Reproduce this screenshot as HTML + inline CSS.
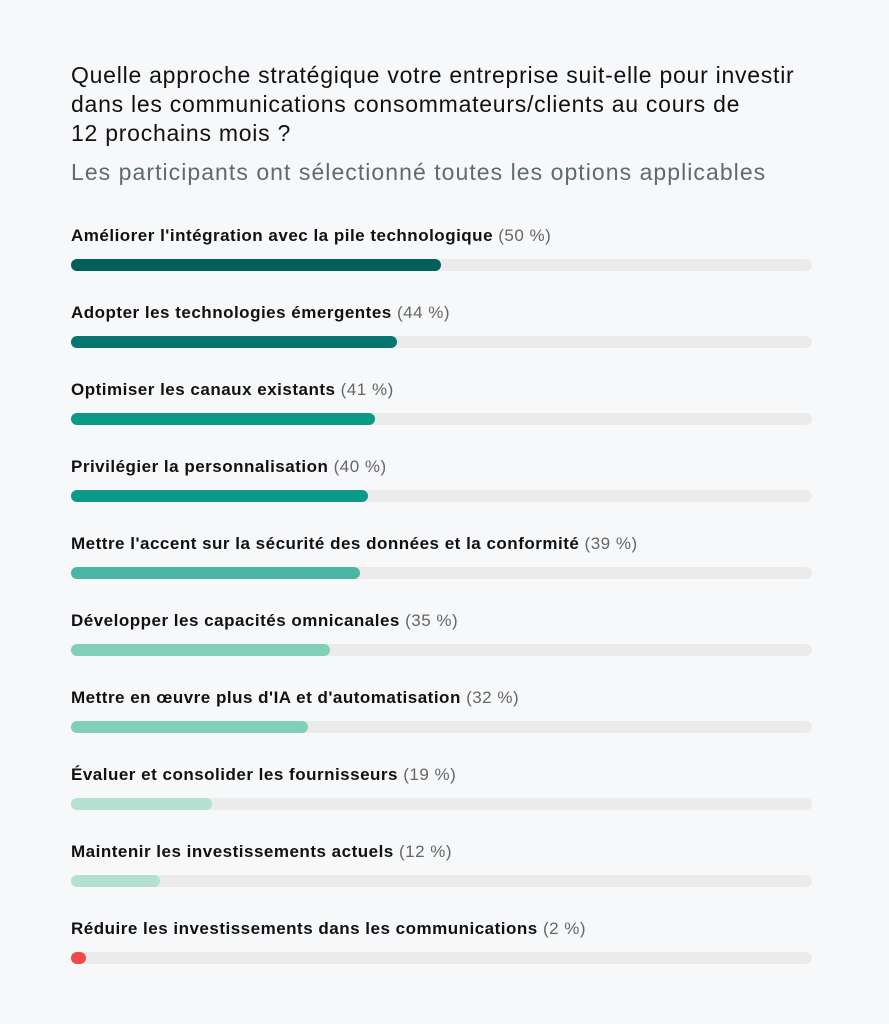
<!DOCTYPE html><html><head><meta charset="utf-8"><style>
body{margin:0;width:889px;height:1024px;background:#f7f8fa;font-family:"Liberation Sans",sans-serif;color:#111;position:relative;overflow:hidden}
.t{position:absolute;left:71px;top:61px;font-size:23px;line-height:29px;width:800px;letter-spacing:0.75px;white-space:nowrap}
.s{position:absolute;left:71px;top:159px;font-size:23px;color:#5f6b6b;letter-spacing:1.05px;white-space:nowrap}
.r{position:absolute;left:71px;width:741px}
.l{font-size:17px;font-weight:bold;height:22px;line-height:22px;white-space:nowrap;letter-spacing:0.5px}
.l span{font-weight:normal;color:#666}
.tr{position:absolute;top:34px;left:0;width:741px;height:12px;border-radius:6px;background:#ebebeb}
.b{height:12px;border-radius:6px}
</style></head><body>
<div class="t">Quelle approche stratégique votre entreprise suit-elle pour investir<br>dans les communications consommateurs/clients au cours de<br>12 prochains mois ?</div>
<div class="s">Les participants ont sélectionné toutes les options applicables</div>
<div class="r" style="top:225px"><div class="l">Améliorer l'intégration avec la pile technologique <span>(50 %)</span></div><div class="tr"><div class="b" style="width:370px;background:#035f5c"></div></div></div>
<div class="r" style="top:302px"><div class="l">Adopter les technologies émergentes <span>(44 %)</span></div><div class="tr"><div class="b" style="width:326px;background:#057670"></div></div></div>
<div class="r" style="top:379px"><div class="l">Optimiser les canaux existants <span>(41 %)</span></div><div class="tr"><div class="b" style="width:304px;background:#0b998a"></div></div></div>
<div class="r" style="top:456px"><div class="l">Privilégier la personnalisation <span>(40 %)</span></div><div class="tr"><div class="b" style="width:297px;background:#0b998a"></div></div></div>
<div class="r" style="top:533px"><div class="l">Mettre l'accent sur la sécurité des données et la conformité <span>(39 %)</span></div><div class="tr"><div class="b" style="width:289px;background:#4bb5a2"></div></div></div>
<div class="r" style="top:610px"><div class="l">Développer les capacités omnicanales <span>(35 %)</span></div><div class="tr"><div class="b" style="width:259px;background:#80d0b8"></div></div></div>
<div class="r" style="top:687px"><div class="l">Mettre en œuvre plus d'IA et d'automatisation <span>(32 %)</span></div><div class="tr"><div class="b" style="width:237px;background:#80d0b8"></div></div></div>
<div class="r" style="top:764px"><div class="l">Évaluer et consolider les fournisseurs <span>(19 %)</span></div><div class="tr"><div class="b" style="width:141px;background:#b4e1d0"></div></div></div>
<div class="r" style="top:841px"><div class="l">Maintenir les investissements actuels <span>(12 %)</span></div><div class="tr"><div class="b" style="width:89px;background:#b4e1d0"></div></div></div>
<div class="r" style="top:918px"><div class="l">Réduire les investissements dans les communications <span>(2 %)</span></div><div class="tr"><div class="b" style="width:15px;background:#ef4b4b"></div></div></div>
</body></html>
